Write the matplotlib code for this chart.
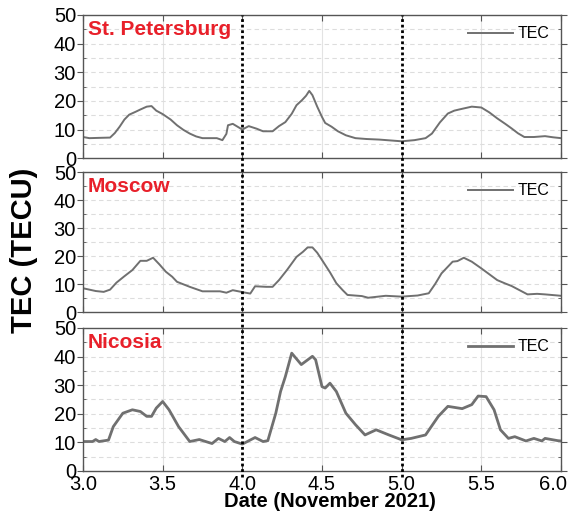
import matplotlib
matplotlib.use("Agg")
import matplotlib.pyplot as plt
from matplotlib.lines import Line2D
import matplotlib.transforms as mtransforms
from matplotlib.ticker import MultipleLocator

stations = ["St. Petersburg", "Moscow", "Nicosia"]

spb_t = [3.0, 3.04, 3.10, 3.17, 3.20, 3.23, 3.26, 3.29, 3.33, 3.36, 3.40, 3.43, 3.46, 3.50,
         3.55, 3.59, 3.63, 3.67, 3.71, 3.75, 3.80, 3.84, 3.875,
         3.90, 3.91, 3.94, 3.97, 4.0, 4.04, 4.09, 4.13, 4.19, 4.23, 4.27, 4.31, 4.34, 4.375,
         4.40, 4.42, 4.44, 4.47, 4.50, 4.52, 4.56, 4.60, 4.65, 4.71, 4.78, 4.86, 4.93, 5.0,
         5.08, 5.15, 5.19, 5.24, 5.29, 5.33, 5.36, 5.40, 5.44, 5.50, 5.55, 5.60, 5.65, 5.69,
         5.73, 5.77, 5.83, 5.90, 5.95, 6.0]
spb_v = [7.4, 7.0, 7.1, 7.2, 8.8, 11.0, 13.5, 15.2, 16.2, 17.0, 18.0, 18.2, 16.6, 15.4,
         13.5, 11.5, 9.9, 8.6, 7.6, 7.0, 7.0, 7.0, 6.3,
         8.5, 11.5, 12.0, 11.0, 10.0, 11.2, 10.3, 9.4, 9.4, 11.2, 12.6, 15.5, 18.5, 20.3,
         21.8, 23.5, 22.0, 18.0, 14.4, 12.3, 11.0, 9.4, 8.0, 7.0, 6.7, 6.5, 6.2, 5.9,
         6.3, 7.0, 8.6, 12.5, 15.6, 16.6, 17.0, 17.5, 18.0, 17.7, 16.0, 13.9, 12.0, 10.4,
         8.7, 7.4, 7.4, 7.7, 7.3, 7.0]

msk_t = [3.0, 3.08, 3.13, 3.17, 3.21, 3.26, 3.31, 3.36, 3.40, 3.44, 3.48, 3.52, 3.56, 3.59,
         3.63, 3.67, 3.71, 3.75, 3.80, 3.86, 3.90,
         3.94, 4.02, 4.05, 4.08, 4.15, 4.19, 4.23, 4.28, 4.34, 4.38, 4.41, 4.44, 4.47, 4.50,
         4.55, 4.59, 4.63, 4.66, 4.75, 4.79, 4.90, 5.0, 5.10, 5.17, 5.21, 5.25, 5.32, 5.35,
         5.39, 5.44, 5.50, 5.55, 5.60, 5.65, 5.69, 5.74, 5.79, 5.85, 5.90, 6.0]
msk_v = [8.5, 7.5, 7.2, 8.0, 10.5, 12.8, 15.0, 18.3, 18.3, 19.4, 17.0, 14.4, 12.6, 10.8,
         9.9, 9.0, 8.2, 7.4, 7.4, 7.4, 6.9,
         7.8, 6.9, 6.6, 9.2, 9.0, 9.0, 11.4, 15.0, 19.7, 21.5, 23.1, 23.1, 21.2, 18.6,
         14.2, 10.3, 7.8, 6.1, 5.7, 5.1, 5.8, 5.5, 5.9, 6.7, 10.0, 13.8, 18.0, 18.2,
         19.4, 18.0, 15.6, 13.5, 11.4, 10.2, 9.3, 7.8, 6.3, 6.5, 6.3, 5.8]

nic_t = [3.0, 3.06, 3.08, 3.10, 3.16, 3.19, 3.25, 3.31, 3.36, 3.40, 3.43, 3.46, 3.50, 3.54,
         3.60, 3.67, 3.73, 3.81, 3.85, 3.89, 3.92, 3.95, 4.0, 4.08, 4.13, 4.16, 4.21, 4.24,
         4.27, 4.31, 4.37, 4.44, 4.46, 4.50, 4.52, 4.55, 4.59, 4.65, 4.71, 4.77, 4.84, 4.92,
         5.0, 5.06, 5.15, 5.23, 5.29, 5.38, 5.44, 5.48, 5.53, 5.58, 5.62, 5.67, 5.71, 5.78,
         5.83, 5.88, 5.90, 5.98, 6.0]
nic_v = [10.3, 10.3, 11.0, 10.3, 10.8, 15.5, 20.2, 21.4, 20.8, 19.1, 19.1, 22.0, 24.3, 21.4,
         15.5, 10.3, 11.0, 9.6, 11.4, 10.3, 11.7, 10.3, 9.4, 11.7, 10.3, 10.6, 20.2, 27.8,
         33.0, 41.2, 37.2, 40.1, 38.9, 29.5, 29.0, 30.7, 27.8, 20.2, 16.2, 12.6, 14.4, 12.6,
         10.9, 11.4, 12.6, 19.1, 22.6, 21.8, 23.2, 26.2, 26.0, 21.4, 14.4, 11.4, 12.0, 10.5,
         11.4, 10.5, 11.4, 10.6, 10.5]

series = [(spb_t, spb_v), (msk_t, msk_v), (nic_t, nic_v)]
xticks = [3.0, 3.5, 4.0, 4.5, 5.0, 5.5, 6.0]
xtick_labels = ["3.0", "3.5", "4.0", "4.5", "5.0", "5.5", "6.0"]
yticks = [0, 10, 20, 30, 40, 50]
event_days = [4.0, 5.0]

plt.rcParams['font.family'] = ['Liberation Sans', 'DejaVu Sans']

fig = plt.figure(figsize=(5.7, 5.17), dpi=100)
left, width = 0.1456, 0.8386
boxes = [(0.694, 0.971), (0.3965, 0.667), (0.089, 0.3656)]
line_color = '#707070'
spine_color = '#555555'
line_widths = [1.4, 1.4, 2.0]
axes = []
for i, ((b, t), name, (xs, ys)) in enumerate(zip(boxes, stations, series)):
    ax = fig.add_axes([left, b, width, t - b])
    axes.append(ax)
    ax.plot(xs, ys, color=line_color, lw=line_widths[i], label='TEC')
    ax.set_xlim(3.0, 6.0)
    ax.set_ylim(0, 50)
    ax.set_yticks(yticks)
    ax.yaxis.set_minor_locator(MultipleLocator(5))
    ax.set_xticks(xticks)
    for x in [3.5, 4.5, 5.5]:
        ax.axvline(x, color='#e3e3e3', lw=0.8, zorder=0)
    for y in range(5, 50, 5):
        ax.axhline(y, color='#dddddd', lw=0.8, ls=(0, (4, 3)), zorder=0)
    for s in ax.spines.values():
        s.set_color(spine_color)
        s.set_linewidth(1.0)
    ax.tick_params(axis='y', which='major', direction='out', length=4, labelsize=14.5,
                   color=spine_color, pad=1, right=True)
    ax.tick_params(axis='y', which='minor', direction='in', length=2, color=spine_color, right=True)
    ax.tick_params(axis='x', which='major', direction='in', length=4, color=spine_color,
                   top=True, labelsize=14.5, pad=3)
    if i < 2:
        ax.set_xticklabels([])
    else:
        ax.set_xticklabels(xtick_labels)
        lbls = ax.get_xticklabels()
        lbls[-1].set_horizontalalignment('right')
        lbls[-1].set_x(6.0)
        offset = mtransforms.ScaledTranslation(6 / 100, 0, fig.dpi_scale_trans)
        lbls[-1].set_transform(lbls[-1].get_transform() + offset)
    ax.text(0.01, 0.965, name, transform=ax.transAxes, color='#e8202a', fontsize=15,
            fontweight='bold', va='top', ha='left')
    ax.legend(loc='upper right', frameon=False, fontsize=11.5, handlelength=2.8,
              handletextpad=0.3, borderaxespad=0.3)

trans = mtransforms.blended_transform_factory(axes[2].transData, fig.transFigure)
for d in event_days:
    fig.add_artist(Line2D([d, d], [boxes[2][0] - 0.012, boxes[0][1]], transform=trans,
                          color='black', lw=2.0, ls=(0, (1, 1)), zorder=5))

fig.text(0.042, 0.516, 'TEC (TECU)', rotation=90, fontsize=21, fontweight='bold',
         ha='center', va='center')
fig.text(0.579, 0.03, 'Date (November 2021)', fontsize=14.5, fontweight='bold',
         ha='center', va='center')

fig.savefig('out.png', dpi=100)
